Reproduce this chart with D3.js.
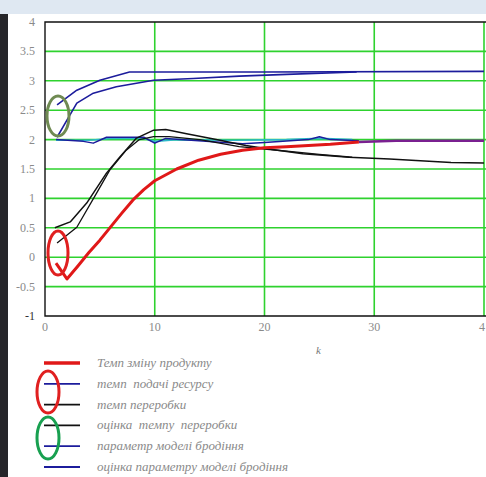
<!DOCTYPE html>
<html>
<head>
<meta charset="utf-8">
<script src="https://cdn.jsdelivr.net/npm/d3@7"></script>
<style>
  body { margin: 0; background: #fff; }
  svg { display: block; }
  text { font-family: "Liberation Serif", "DejaVu Serif", "Times New Roman", serif; }
</style>
</head>
<body>
<svg id="chart" width="486" height="477"></svg>
<script>
// x ticks and y ticks
const kTicks = [0, 10, 20, 30, 40];
const yTicks = [-1, -0.5, 0, 0.5, 1, 1.5, 2, 2.5, 3, 3.5, 4];

// series, [k, value]
const productRate = [[1, -0.1], [2, -0.37], [3, -0.15], [4, 0.08], [5, 0.29], [6, 0.52], [7, 0.75],
  [8, 0.97], [9, 1.15], [10, 1.3], [12, 1.5], [14, 1.65], [16, 1.75], [18, 1.82], [20, 1.86],
  [22, 1.88], [24, 1.9], [26, 1.92], [28.6, 1.96], [32, 1.98], [36, 1.98], [40, 1.98]];
const resourceRate = [[1, 2.0], [3.5, 1.97], [4.4, 1.94], [5.6, 2.04], [9, 2.04], [10, 1.94], [11, 2.02],
  [14, 1.98], [18, 1.93], [20, 1.95], [24, 2.0], [25, 2.05], [26, 2.0], [28.6, 1.98]];
const resourceEst = [[1, 1.99], [4, 1.99], [6, 2.02], [9, 2.02], [10, 1.97], [12, 2.0], [17, 1.99],
  [22, 2.0], [25, 2.02], [28, 2.0]];
const procRate = [[0.9, 0.5], [2.3, 0.6], [3.8, 0.92], [5.6, 1.43], [6.8, 1.7], [8.3, 2.02], [9.9, 2.16],
  [11, 2.17], [12.9, 2.1], [15.6, 2.0], [18.3, 1.9], [20.7, 1.83], [23.5, 1.76], [27.7, 1.7],
  [31.4, 1.67], [37, 1.61], [40, 1.6]];
const procEst = [[1.1, 0.24], [2.9, 0.51], [4.7, 1.09], [5.9, 1.48], [7.4, 1.82], [8.6, 2.0], [9.9, 2.05],
  [11.3, 2.05], [14.1, 2.0], [17.7, 1.88], [20, 1.84], [25, 1.75], [28, 1.7]];
const fermParam = [[1.1, 2.59], [2.9, 2.84], [5, 3.01], [7.7, 3.15], [20, 3.15], [40, 3.16]];
const fermEst = [[1.1, 2.04], [2, 2.33], [2.9, 2.62], [4.4, 2.79], [6.5, 2.9], [9.9, 3.01], [13.5, 3.04],
  [17.7, 3.08], [22, 3.11], [28.4, 3.15]];

const legendLabels = [
  'Темп зміну продукту',
  'темп  подачі ресурсу',
  'темп переробки',
  'оцінка  темпу  переробки',
  'параметр моделі бродіння',
  'оцінка параметру моделі бродіння'
];
const legendColors = ['#e01818', '#1c1c9c', '#111', '#111', '#1c1c9c', '#1c1c9c'];

const svg = d3.select('#chart');

// screenshot frame bits
svg.append('rect').attr('x', 0).attr('y', 0).attr('width', 486).attr('height', 14).attr('fill', '#dfe8f2');
svg.append('rect').attr('x', 0).attr('y', 14).attr('width', 8).attr('height', 463).attr('fill', '#26262a');

const x = d3.scaleLinear().domain([0, 40]).range([45, 484]);
const y = d3.scaleLinear().domain([-1, 4]).range([316, 22]);

// grid
svg.append('g')
  .selectAll('line')
  .data(yTicks.filter(d => d > -1 && d < 4))
  .enter()
  .append('line')
  .attr('x1', 45).attr('x2', 486)
  .attr('y1', d => y(d)).attr('y2', d => y(d))
  .attr('stroke', '#2ed22e').attr('stroke-width', 1.6);

svg.append('g')
  .selectAll('line')
  .data(kTicks.filter(d => d > 0))
  .enter()
  .append('line')
  .attr('y1', 22).attr('y2', 316)
  .attr('x1', d => x(d)).attr('x2', d => x(d))
  .attr('stroke', '#2ed22e').attr('stroke-width', 1.6);

// frame
svg.append('path')
  .attr('d', `M486,${y(4)}H${x(0)}V${y(-1)}H486`)
  .attr('fill', 'none').attr('stroke', '#111').attr('stroke-width', 1.4);

// tick labels
svg.append('g')
  .selectAll('text')
  .data(yTicks)
  .enter()
  .append('text')
  .attr('x', 35).attr('y', d => y(d) + 4)
  .attr('text-anchor', 'end')
  .attr('font-size', 12)
  .attr('fill', d => d === -1 ? '#333' : '#8a8a8a')
  .text(d => d);

svg.append('g')
  .selectAll('text')
  .data(kTicks)
  .enter()
  .append('text')
  .attr('x', d => d === 40 ? 479 : x(d)).attr('y', 331)
  .attr('text-anchor', d => d === 40 ? 'start' : 'middle')
  .attr('font-size', 12)
  .attr('fill', '#8a8a8a')
  .text(d => d === 40 ? '4' : d);

svg.append('text')
  .attr('x', 316).attr('y', 354)
  .attr('font-style', 'italic')
  .attr('font-size', 11)
  .attr('fill', '#777')
  .text('k');

// lines
const line = d3.line().x(d => x(d[0])).y(d => y(d[1]));
const plot = svg.append('g').attr('fill', 'none').attr('stroke-linejoin', 'round');

plot.append('path').datum(resourceEst).attr('d', line).attr('stroke', '#2cb8c8').attr('stroke-width', 1.6);
plot.append('path').datum(resourceRate).attr('d', line).attr('stroke', '#1c1c9c').attr('stroke-width', 1.5);
plot.append('path').datum(fermParam).attr('d', line).attr('stroke', '#1c1c9c').attr('stroke-width', 1.6);
plot.append('path').datum(fermEst).attr('d', line).attr('stroke', '#1c1c9c').attr('stroke-width', 1.6);
plot.append('path').datum(procEst).attr('d', line).attr('stroke', '#111').attr('stroke-width', 1.3);
plot.append('path').datum(procRate).attr('d', line).attr('stroke', '#111').attr('stroke-width', 1.5);
// red overlaps the blue one after ~28.6 -> purple
plot.append('path').datum(productRate.filter(d => d[0] >= 28.6)).attr('d', line)
  .attr('stroke', '#7a2090').attr('stroke-width', 2.6);
plot.append('path').datum(productRate.filter(d => d[0] <= 28.6)).attr('d', line)
  .attr('stroke', '#e01818').attr('stroke-width', 3);

// hand-drawn marks
svg.append('ellipse').attr('cx', 58).attr('cy', 116).attr('rx', 11).attr('ry', 20)
  .attr('fill', 'none').attr('stroke', '#6f8a52').attr('stroke-width', 3);
svg.append('ellipse').attr('cx', 58).attr('cy', 253).attr('rx', 10).attr('ry', 22)
  .attr('fill', 'none').attr('stroke', '#e02020').attr('stroke-width', 3);

// legend
const legend = svg.append('g');
const ly = i => 363 + i * 20.8;
legend.selectAll('line')
  .data(legendLabels)
  .enter()
  .append('line')
  .attr('x1', 44).attr('x2', 80)
  .attr('y1', (d, i) => ly(i)).attr('y2', (d, i) => ly(i))
  .attr('stroke', (d, i) => legendColors[i])
  .attr('stroke-width', (d, i) => i === 0 ? 3.5 : 1.8);

legend.selectAll('text')
  .data(legendLabels)
  .enter()
  .append('text')
  .attr('x', 97).attr('y', (d, i) => ly(i) + 4)
  .attr('font-style', 'italic')
  .attr('font-size', 13)
  .attr('fill', '#8a8a8a')
  .style('white-space', 'pre')
  .text(d => d);

legend.append('ellipse').attr('cx', 48).attr('cy', 392).attr('rx', 11).attr('ry', 21)
  .attr('fill', 'none').attr('stroke', '#e02020').attr('stroke-width', 3);
legend.append('ellipse').attr('cx', 48).attr('cy', 438).attr('rx', 11).attr('ry', 21)
  .attr('fill', 'none').attr('stroke', '#18a050').attr('stroke-width', 3);
</script>
</body>
</html>
